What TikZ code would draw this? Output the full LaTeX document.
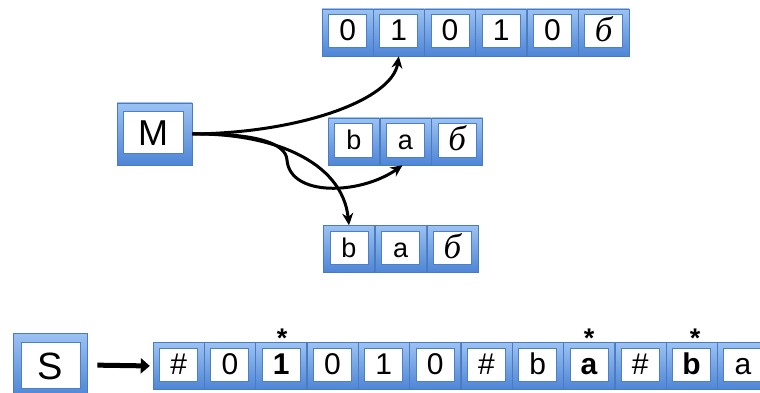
\documentclass[tikz,border=0pt]{standalone}
\usepackage{fontspec}
\setmainfont{Liberation Sans}
\newfontfamily\blankfont{Liberation Serif}
\usetikzlibrary{arrows.meta}
\definecolor{celltop}{HTML}{9CC2F2}
\definecolor{cellbot}{HTML}{4E85D6}
\definecolor{celledge}{HTML}{4A7BBE}
\definecolor{cellinner}{HTML}{4D7FC4}
\tikzset{
  cellbox/.style={rectangle,minimum width=51pt,minimum height=47pt,inner sep=0pt,
    draw=celledge,line width=0.6pt,top color=celltop,bottom color=cellbot},
  cellin/.style={rectangle,fill=white,draw=cellinner,line width=1pt,
    minimum width=38pt,minimum height=33pt,inner sep=0pt},
  big/.style={font=\fontsize{30}{32}\selectfont,text height=19pt,text depth=0pt},
  mid/.style={font=\fontsize{27}{29}\selectfont,text height=18pt,text depth=0pt},
  blk/.style={font=\blankfont\itshape\fontsize{35}{37}\selectfont,text height=20pt,text depth=0pt},
  star/.style={font=\bfseries\fontsize{27}{29}\selectfont,anchor=base,inner sep=0pt},
  conn/.style={line width=3pt,-{Stealth[length=12pt,width=11pt]}},
}
\newcommand\tcell[4][]{%
  \node[cellbox] (#2) at (#3) {};
  \node[cellin,#1] (#2i) at ([yshift=1pt]#2.center) {#4};}
\begin{document}
\begin{tikzpicture}[x=1pt,y=-1pt]
\useasboundingbox (0,0) rectangle (760,393);
\clip (0,0) rectangle (760,393);
% top tape
\tcell[big]{t1}{347.6,32.5}{0}
\tcell[big]{t2}{398.8,32.5}{1}
\tcell[big]{t3}{450.0,32.5}{0}
\tcell[big]{t4}{501.2,32.5}{1}
\tcell[big]{t5}{552.4,32.5}{0}
\tcell[blk]{t6}{603.6,32.5}{б}
% middle tape
\tcell[mid]{m1}{353.8,141.5}{b}
\tcell[mid]{m2}{405.5,141.5}{a}
\tcell[blk]{m3}{457.2,141.5}{б}
% lower tape
\tcell[mid]{b1}{349.0,249}{b}
\tcell[mid]{b2}{400.7,249}{a}
\tcell[blk]{b3}{452.3,249}{б}
% M box
\node[cellbox,minimum width=75pt,minimum height=62pt] (M) at (154.5,134) {};
\node[cellin,minimum width=60pt,minimum height=41pt,font=\fontsize{36}{38}\selectfont,text height=26pt,text depth=0pt] (Mi) at (153,132.5) {M};
% S box
\node[cellbox,minimum width=74pt,minimum height=64pt] (S) at (50,365) {};
\node[cellin,minimum width=59pt,minimum height=46pt,font=\fontsize{38}{40}\selectfont,text height=28pt,text depth=0pt] (Si) at (50.5,365) {S};
% bottom tape
\tcell[big]{s1}{178.6,366}{\#}
\tcell[big]{s2}{229.9,366}{0}
\tcell[big]{s3}{281.2,366}{\bfseries 1}
\tcell[big]{s4}{332.5,366}{0}
\tcell[big]{s5}{383.8,366}{1}
\tcell[big]{s6}{435.1,366}{0}
\tcell[big]{s7}{486.4,366}{\#}
\tcell[big]{s8}{537.7,366}{b}
\tcell[big]{s9}{589.0,366}{\bfseries a}
\tcell[big]{s10}{640.3,366}{\#}
\tcell[big]{s11}{691.6,366}{\bfseries b}
\tcell[big]{s12}{742.9,366}{a}
% stars
\node[star] (st1) at (282,347) {*};
\node[star] (st2) at (589,347) {*};
\node[star] (st3) at (695,347) {*};
% connectors
\draw[conn] (M.east) .. controls (300,133) and (392,100) .. (t2.south);
\draw[conn] (M.east) .. controls (270,133) and (342,160) .. (b1.north);
\coordinate (loop) at (287,160);
\draw[line width=3pt] (M.east) .. controls (255,133) and (286,143) .. (loop);
\draw[conn] (loop) .. controls (290,197) and (360,195) .. ([xshift=-3pt]m2.south);
\draw[line width=5pt,-{Triangle[length=9pt 0,width=15pt 0]},shorten <=10pt,shorten >=3pt] (S.east) -- (s1.west);
\end{tikzpicture}
\end{document}
